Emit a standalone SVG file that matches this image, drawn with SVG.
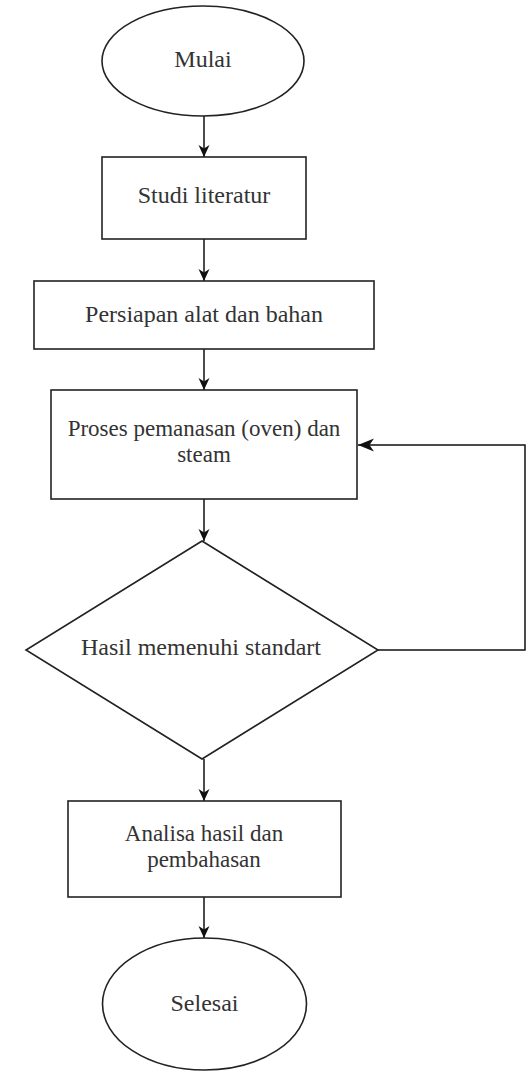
<svg xmlns="http://www.w3.org/2000/svg" width="527" height="1071" viewBox="0 0 527 1071">
<style>
.shape{fill:#fff;stroke:#222;stroke-width:1.6}
.lbl{font-family:"Liberation Serif","Times New Roman",serif;font-size:24px;fill:#333;text-anchor:middle}
.ml{font-size:23px}
.conn{fill:none;stroke:#111;stroke-width:1.5}
</style>
<defs>
<marker id="arr" markerUnits="userSpaceOnUse" markerWidth="14" markerHeight="12" refX="12" refY="6" orient="auto">
<path d="M0,0.5 L12,6 L0,11.5 L3.5,6 Z" fill="#111"/>
</marker>
<marker id="arrL" markerUnits="userSpaceOnUse" markerWidth="18" markerHeight="14" refX="16" refY="7" orient="auto">
<path d="M0,0.5 L16,7 L0,13.5 L4.5,7 Z" fill="#111"/>
</marker>
</defs>
<rect width="527" height="1071" fill="#fff"/>
<g id="connectors">
<line class="conn" x1="204" y1="116" x2="204" y2="157" marker-end="url(#arr)"/>
<line class="conn" x1="204" y1="239" x2="204" y2="281" marker-end="url(#arr)"/>
<line class="conn" x1="204" y1="349" x2="204" y2="390" marker-end="url(#arr)"/>
<line class="conn" x1="204" y1="499" x2="204" y2="541" marker-end="url(#arr)"/>
<polyline class="conn" points="378,650 525,650 525,445 358,445" marker-end="url(#arrL)"/>
<line class="conn" x1="204" y1="759" x2="204" y2="801" marker-end="url(#arr)"/>
<line class="conn" x1="204" y1="897" x2="204" y2="938" marker-end="url(#arr)"/>
</g>
<g id="mulai">
<ellipse class="shape" cx="203" cy="61" rx="101" ry="55"/>
<text class="lbl" x="203" y="67">Mulai</text>
</g>
<g id="studi">
<rect class="shape" x="102" y="157" width="204" height="82"/>
<text class="lbl" x="204" y="203">Studi literatur</text>
</g>
<g id="persiapan">
<rect class="shape" x="34" y="281" width="340" height="68"/>
<text class="lbl" x="204" y="322">Persiapan alat dan bahan</text>
</g>
<g id="proses">
<rect class="shape" x="51" y="390" width="306" height="109"/>
<text class="lbl ml" x="204" y="436">Proses pemanasan (oven) dan</text>
<text class="lbl ml" x="204" y="462">steam</text>
</g>
<g id="keputusan">
<polygon class="shape" points="202,541 378,650 202,759 26,650"/>
<text class="lbl" x="201" y="655">Hasil memenuhi standart</text>
</g>
<g id="analisa">
<rect class="shape" x="68" y="801" width="273" height="96"/>
<text class="lbl ml" x="204" y="841">Analisa hasil dan</text>
<text class="lbl ml" x="204" y="867">pembahasan</text>
</g>
<g id="selesai">
<ellipse class="shape" cx="204.5" cy="1004" rx="102" ry="66"/>
<text class="lbl" x="204.5" y="1011">Selesai</text>
</g>
</svg>
